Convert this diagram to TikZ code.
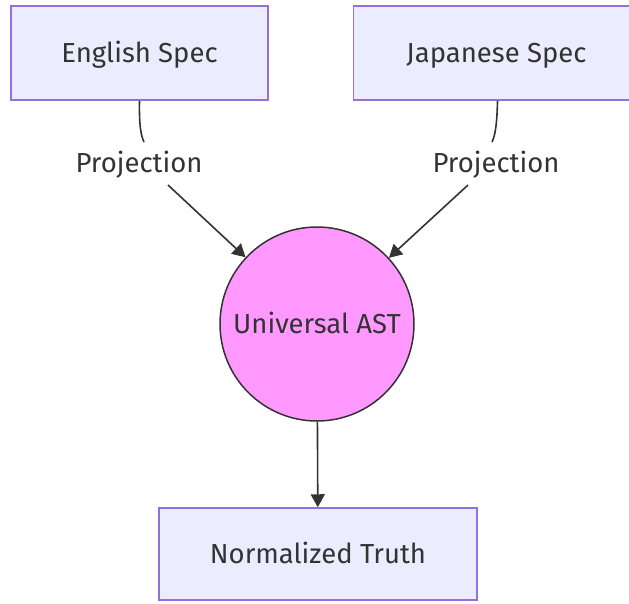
\documentclass[tikz,border=0pt]{standalone}
\usepackage{fontspec}
\setmainfont{Fira Sans}
\usetikzlibrary{arrows.meta}
\definecolor{boxfill}{HTML}{ECECFF}
\definecolor{boxline}{HTML}{9370DB}
\definecolor{ink}{HTML}{333333}
\definecolor{astfill}{HTML}{FF99FF}
\begin{document}
\begin{tikzpicture}[x=1pt,y=-1pt,
  every node/.style={font=\fontsize{27.5}{32}\selectfont, text=ink, text height=24pt, text depth=6pt},
  specbox/.style={draw=boxline, fill=boxfill, line width=1.5pt, minimum height=94pt, inner sep=0pt},
  astnode/.style={circle, draw=ink, fill=astfill, line width=1.5pt, minimum size=194pt, inner sep=0pt},
  lbl/.style={inner sep=0pt, minimum height=43pt, minimum width=120pt},
  conn/.style={draw=ink, line width=1.6pt},
  arr/.style={conn, -{Triangle[length=13pt,width=14pt]}}]
\clip (0,0) rectangle (629,603);
\useasboundingbox (0,0) rectangle (629,603);
\fill[white] (0,0) rectangle (629,603);
\node[specbox, minimum width=257pt] (en) at (139.5,53) {English Spec};
\node[specbox, minimum width=286pt] (ja) at (496.5,53) {Japanese Spec};
\node[astnode] (ast) at (317,324) {Universal AST};
\node[specbox, minimum width=318pt, minimum height=92pt] (nt) at (318,554) {Normalized Truth};
\node[lbl] (l1) at (139,163) {Projection};
\node[lbl] (l2) at (496,163) {Projection};
\coordinate (l1t) at (144,142);
\coordinate (l1b) at (168,185);
\coordinate (l2t) at (492,142);
\coordinate (l2b) at (468,185);
\draw[conn] (en.south) .. controls (139,125) and (141,136) .. (l1t);
\draw[arr] (l1b) -- (ast);
\draw[conn] ([xshift=1pt]ja.south) .. controls (497,125) and (495,136) .. (l2t);
\draw[arr] (l2b) -- (ast);
\draw[arr] (ast) -- (nt);
\end{tikzpicture}
\end{document}
